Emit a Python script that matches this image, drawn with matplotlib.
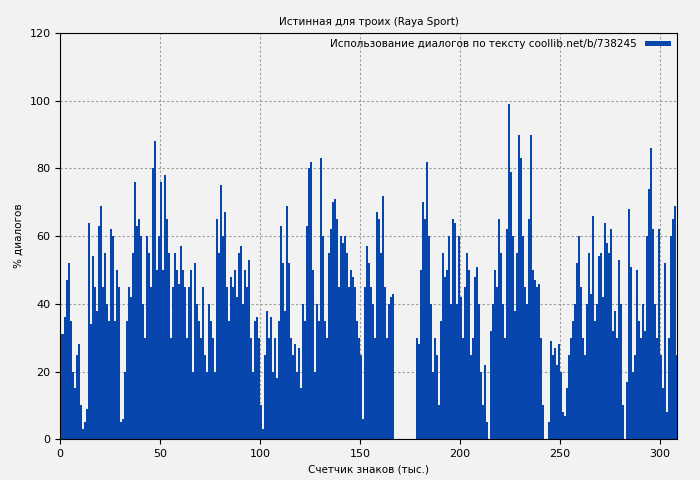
import matplotlib
matplotlib.use("Agg")
import matplotlib.pyplot as plt
import numpy as np

# доля диалогов (%) по тысячам знаков, 0..308
values = [
    31, 31, 36, 47, 52, 35, 20, 15, 25, 28, 10, 3, 5, 9, 64, 34, 54, 45, 38, 63,
    69, 45, 55, 40, 35, 62, 60, 35, 50, 45, 5, 6, 20, 35, 45, 42, 55, 76, 63, 65,
    60, 40, 30, 60, 55, 45, 80, 88, 50, 60, 76, 50, 78, 65, 55, 30, 45, 55, 50, 46,
    57, 50, 45, 30, 45, 50, 20, 52, 40, 35, 30, 45, 25, 20, 40, 35, 30, 20, 65, 55,
    75, 60, 67, 45, 35, 48, 45, 50, 42, 55, 57, 40, 50, 45, 53, 30, 20, 35, 36, 30,
    10, 3, 25, 38, 30, 36, 20, 30, 18, 35, 63, 52, 38, 69, 52, 30, 25, 28, 20, 27,
    15, 40, 35, 63, 80, 82, 50, 20, 40, 35, 83, 60, 35, 30, 55, 62, 70, 71, 65, 45,
    60, 58, 60, 55, 45, 50, 48, 45, 35, 30, 25, 6, 45, 57, 52, 45, 40, 30, 67, 65,
    55, 72, 45, 30, 40, 42, 43, 0, 0, 0, 0, 0, 0, 0, 0, 0, 0, 0, 30, 28,
    50, 70, 65, 82, 60, 40, 20, 30, 25, 10, 35, 55, 48, 50, 60, 40, 65, 64, 40, 60,
    42, 30, 45, 55, 50, 25, 30, 48, 51, 40, 20, 10, 22, 5, 0, 32, 40, 50, 45, 65,
    55, 40, 30, 62, 99, 79, 60, 38, 55, 90, 83, 60, 45, 40, 65, 90, 50, 47, 45, 46,
    30, 10, 0, 0, 5, 29, 25, 27, 22, 28, 20, 8, 7, 15, 25, 30, 35, 40, 52, 60,
    45, 30, 25, 40, 55, 43, 66, 35, 40, 54, 55, 42, 64, 58, 55, 62, 32, 38, 30, 53,
    40, 10, 0, 17, 68, 51, 20, 25, 50, 35, 30, 40, 32, 60, 74, 86, 62, 40, 30, 62,
    25, 15, 52, 8, 30, 60, 65, 69, 25,
]
x = np.arange(len(values)) + 0.5

bg = "#f2f2f2"
fig, ax = plt.subplots(figsize=(7, 4.8), dpi=100)
fig.patch.set_facecolor(bg)
ax.set_facecolor(bg)
fig.subplots_adjust(left=0.086, right=0.967, top=0.931, bottom=0.085)

ax.bar(x, values, width=1.0, color="#0646ad", linewidth=0,
       label="Использование диалогов по тексту coollib.net/b/738245")
ax.set_xlim(0, 308.5)
ax.set_ylim(0, 120)
ax.set_xticks(range(0, 301, 50))
ax.set_yticks(range(0, 121, 20))
ax.tick_params(labelsize=8)
ax.grid(True, color="#999999", linestyle=(0, (2, 2)), linewidth=0.8)
ax.set_axisbelow(True)
ax.set_title("Истинная для троих (Raya Sport)", fontsize=7.5)
ax.set_xlabel("Счетчик знаков (тыс.)", fontsize=7.5)
ax.set_ylabel("% диалогов", fontsize=7.5)
ax.legend(loc="upper right", fontsize=7.5, frameon=False, borderaxespad=0.2,
          handlelength=2.5, handleheight=0.4, markerfirst=False)

fig.savefig("out.png", dpi=100, facecolor=bg)
